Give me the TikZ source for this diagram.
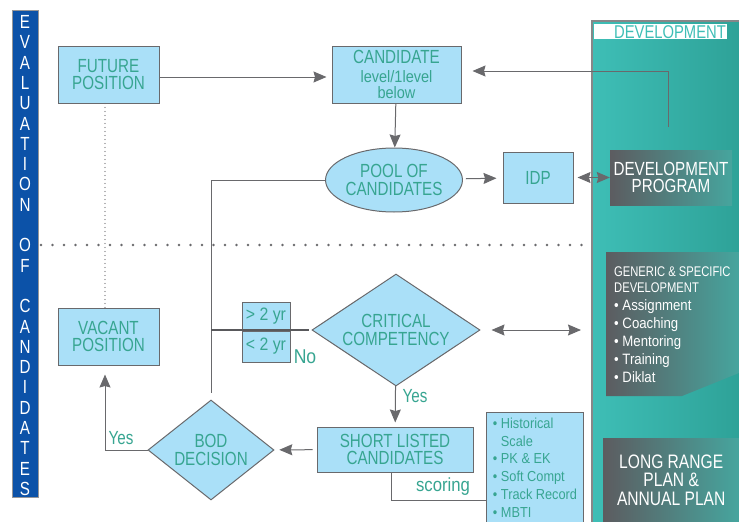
\documentclass[tikz,border=0pt]{standalone}
\usepackage{fontspec}
\setmainfont{Liberation Sans}[FakeStretch=0.8]
\newfontfamily\listfont{Liberation Sans}[FakeStretch=0.88]
\usetikzlibrary{arrows.meta,shapes.geometric}
\definecolor{boxblue}{RGB}{170,224,248}
\definecolor{tealtext}{RGB}{55,165,145}
\definecolor{linegrey}{RGB}{105,105,108}
\definecolor{evalblue}{RGB}{12,82,168}
\definecolor{panelleft}{RGB}{62,190,182}
\definecolor{panelright}{RGB}{46,162,152}
\definecolor{shadegrey}{RGB}{92,92,96}
\definecolor{shadeteal}{RGB}{70,165,158}
\tikzset{
  >={Stealth[length=13pt,width=11pt,inset=1.5pt]},
  flow/.style={->, line width=1pt, draw=linegrey},
  twoway/.style={<->, line width=1pt, draw=linegrey},
  link/.style={line width=1pt, draw=linegrey},
  splitline/.style={line width=2.4pt, draw=linegrey!85!black},
  bigdots/.style={line width=2.8pt, draw=linegrey, line cap=round, dash pattern=on 0pt off 11.5pt},
  finedots/.style={line width=1.2pt, draw=linegrey, line cap=round, dash pattern=on 0pt off 4pt},
  bluebox/.style={
    draw=linegrey,
    line width=1pt,
    fill=boxblue,
    text=tealtext,
    align=center,
    inner sep=0pt,
    font=\fontsize{19}{17.5}\selectfont
  },
  decision/.style={bluebox, diamond, shape aspect=1.4},
  poolbox/.style={bluebox, ellipse},
  yrbox/.style={bluebox, minimum width=48, font=\listfont\fontsize{18}{18}\selectfont},
  darkbox/.style={left color=shadegrey, right color=shadeteal, text=white, align=center, inner sep=0pt},
  tag/.style={text=tealtext, inner sep=0pt, font=\fontsize{19}{19}\selectfont},
  evalletter/.style={text=white, inner sep=0pt, font=\fontsize{19}{19}\selectfont}
}
\newcommand\smalltxt{\listfont\fontsize{16.5}{15}\selectfont}

\begin{document}
\begin{tikzpicture}[x=1pt,y=-1pt]
  \useasboundingbox (0,0) rectangle (739,522);
  \fill[white] (0,0) rectangle (739,522);

  % development panel
  \shade[left color=panelleft, right color=panelright] (592,21) rectangle (739,522);
  \draw[line width=1.5pt, draw=linegrey!80] (739,21) -- (592,21) -- (592,522);
  \node[fill=white, minimum width=133, minimum height=15, inner sep=0pt] (devhead) at (660.5,31.5) {};
  \node[text=panelleft, inner sep=0pt, font=\fontsize{18.5}{18}\selectfont] (devtitle) at (670,32) {DEVELOPMENT};
  \node[darkbox, minimum width=122, minimum height=55, font=\fontsize{19}{17.5}\selectfont]
    (devprog) at (671,177.5) {DEVELOPMENT\\PROGRAM};
  \shade[left color=shadegrey, right color=shadeteal]
    (606,252) -- (739,252) -- (739,373) -- (682,396) -- (606,396) -- cycle;
  \node[anchor=north west, align=left, text=white, inner sep=0pt, font=\listfont\fontsize{15}{18}\selectfont]
    (devlist) at (614,266.5) {{\rmfamily\fontsize{14}{18}\selectfont GENERIC \& SPECIFIC}\\[-2pt]
      {\rmfamily\fontsize{14}{18}\selectfont DEVELOPMENT}\\
      \textbullet\ Assignment\\\textbullet\ Coaching\\\textbullet\ Mentoring\\
      \textbullet\ Training\\\textbullet\ Diklat};
  \node[darkbox, anchor=north west, minimum width=136, minimum height=84, font=\fontsize{19.5}{18.5}\selectfont]
    (plan) at (603,438) {LONG RANGE\\PLAN \&\\ANNUAL PLAN};

  % evaluation bar
  \node[fill=evalblue, draw=linegrey!70, minimum width=26, minimum height=487, inner sep=0pt]
    (evalbar) at (25,253.5) {};
  \foreach \ch/\k in {E/0,V/1,A/2,L/3,U/4,A/5,T/6,I/7,O/8,N/9,O/11,F/12,
                      C/14,A/15,N/16,D/17,I/18,D/19,A/20,T/21,E/22,S/23}
    \node[evalletter] (evl\k) at (25,{22+20.3*\k}) {\ch};

  \draw[bigdots] (41,245) -- (592,245);

  \node[bluebox, minimum width=101, minimum height=57] (futpos) at (108.5,74.5) {FUTURE\\POSITION};
  \node[bluebox, minimum width=129, minimum height=57]
    (cand) at (396.5,74.5) {CANDIDATE\\[1pt]{\smalltxt level/1level}\\[-1pt]{\smalltxt below}};
  \node[poolbox, minimum width=134, minimum height=64] (pool) at (394,180) {POOL OF\\CANDIDATES};
  \node[bluebox, minimum width=70, minimum height=51] (idp) at (538,177.5) {IDP};
  \node[bluebox, minimum width=101, minimum height=57] (vacpos) at (108.5,336.5) {VACANT\\POSITION};
  \node[yrbox, minimum height=29] (yrup) at (266,316.5) {> 2 yr};
  \node[yrbox, minimum height=31] (yrdown) at (266,346.5) {< 2 yr};
  \node[decision, minimum width=168, minimum height=112] (crit) at (396,330) {CRITICAL\\COMPETENCY};
  \node[bluebox, minimum width=156, minimum height=45] (short) at (395,449.5) {SHORT LISTED\\CANDIDATES};
  \node[decision, minimum width=126, minimum height=100] (bod) at (211,450) {BOD\\DECISION};
  \node[bluebox, anchor=north west, minimum width=97, minimum height=110, align=left,
        font=\listfont\fontsize{14.5}{17.8}\selectfont]
    (scales) at (486,412) {\textbullet\ Historical\\\phantom{\textbullet}\ Scale\\\textbullet\ PK \& EK\\
      \textbullet\ Soft Compt\\\textbullet\ Track Record\\\textbullet\ MBTI};

  \node[tag, font=\listfont\fontsize{20}{20}\selectfont] (nolab) at (305,357) {No};
  \node[tag] (yescrit) at (415,396) {Yes};
  \node[tag] (yesbod) at (121,438) {Yes};
  \node[tag, font=\listfont\fontsize{19}{19}\selectfont] (scorelab) at (443,487) {scoring};

  \coordinate (devtap) at (668,127);
  \coordinate (genin) at (581,330);

  \draw[finedots] ([xshift=-3.5pt]futpos.south) -- ([xshift=-3.5pt]vacpos.north);
  \draw[flow, shorten >=5pt] ([yshift=-2.5pt]futpos.east) -- ([yshift=-2.5pt]cand.west);
  \draw[flow] (cand) -- (pool);
  \draw[flow, shorten <=3pt, shorten >=6pt] (pool) -- (idp);
  \draw[twoway, shorten <=4pt] (idp) -- (devprog);
  \draw[flow, shorten >=11pt] (devtap) |- ([yshift=3.5pt]cand.east);
  \draw[link, shorten >=7pt] (pool.west) -| (bod.north);
  \draw[splitline, shorten >=3pt] (crit.west -| bod.north) -- (crit.west);
  \draw[twoway, shorten <=11pt] (crit.east) -- (genin);
  \draw[flow, shorten >=4pt] (crit) -- (short);
  \draw[flow, shorten <=4pt, shorten >=5pt] (short) -- (bod);
  \draw[flow, shorten >=9pt] (bod.west) -| ([xshift=-3.5pt]vacpos.south);
  \draw[link] ([xshift=-4pt]short.south) |- ([yshift=-33pt]scales.west);
\end{tikzpicture}
\end{document}
